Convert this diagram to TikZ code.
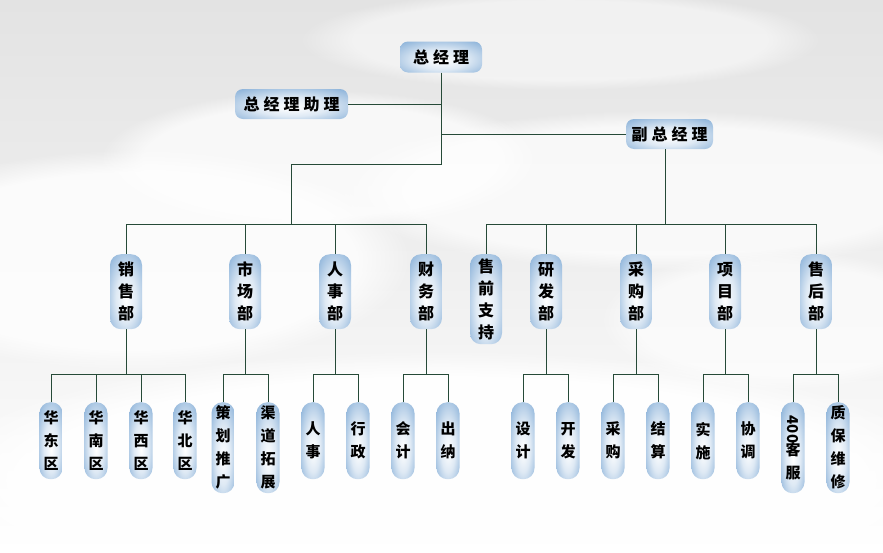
\documentclass[tikz,border=0pt]{standalone}
\usepackage{fontspec}
\newfontfamily\cjk{Noto Sans CJK SC}
\usetikzlibrary{positioning,fadings}
\definecolor{boxblue}{RGB}{124,168,212}
\definecolor{linegreen}{RGB}{38,74,56}
\pgfdeclareradialshading{boxshade}{\pgfpoint{0bp}{-6bp}}{color(0bp)=(white); color(16bp)=(white!75!boxblue); color(40bp)=(boxblue); color(60bp)=(boxblue)}

\begin{document}
\begin{tikzpicture}[x=1pt,y=-1pt,
    box/.style={shading=boxshade, rounded corners=8pt, inner sep=0pt, align=center,
                font=\cjk\bfseries\fontsize{16}{22}\selectfont},
    headbox/.style={box, minimum height=31pt},
    deptbox/.style={box, anchor=north, minimum width=32pt, rounded corners=11pt},
    subbox/.style={box, anchor=north, minimum width=23pt, rounded corners=11pt,
                   font=\cjk\bfseries\fontsize{15}{23}\selectfont},
    cloud/.style={fill=white, path fading=circle with fuzzy edge 20 percent},
    link/.style={draw=linegreen, line width=0.9pt}]
  % background
  \useasboundingbox (0,0) rectangle (883,552);
  \shade[top color=black!11, bottom color=white, middle color=black!6] (0,0) rectangle (883,552);
  \fill[cloud, opacity=0.8] (130,260) ellipse (280 and 110);
  \fill[cloud, opacity=0.7] (660,190) ellipse (320 and 80);
  \fill[cloud, opacity=0.7] (320,160) ellipse (220 and 70);
  \fill[cloud, opacity=0.9] (441,480) ellipse (520 and 130);
  \fill[cloud, opacity=0.6] (780,320) ellipse (180 and 70);
  \fill[cloud, opacity=0.5] (560,40) ellipse (260 and 50);

  % top level
  \node[headbox, minimum width=82pt] (gm) at (441,57) {总\hspace{4pt}经\hspace{4pt}理};
  \node[headbox, minimum width=113pt, minimum height=30pt] (asst) at (291.5,104) {总\hspace{4pt}经\hspace{4pt}理\hspace{4pt}助\hspace{4pt}理};
  \node[headbox, minimum width=87pt, minimum height=30pt] (vgm) at (669.5,134) {副\hspace{4pt}总\hspace{4pt}经\hspace{4pt}理};

  % departments
  \node[deptbox, minimum height=75pt] (sales) at (126,254) {销\\售\\部};
  \node[deptbox, minimum height=75pt] (market) at (245,254) {市\\场\\部};
  \node[deptbox, minimum height=75pt] (hr) at (335,254) {人\\事\\部};
  \node[deptbox, minimum height=75pt] (fin) at (426,254) {财\\务\\部};
  \node[deptbox, minimum height=90pt] (presale) at (486,254) {售\\前\\支\\持};
  \node[deptbox, minimum height=75pt] (rd) at (546,254) {研\\发\\部};
  \node[deptbox, minimum height=75pt] (buy) at (636,254) {采\\购\\部};
  \node[deptbox, minimum height=75pt] (proj) at (725,254) {项\\目\\部};
  \node[deptbox, minimum height=75pt] (after) at (816,254) {售\\后\\部};

  % sections
  \node[subbox, minimum height=77pt] (east) at (51,402) {华\\东\\区};
  \node[subbox, minimum height=77pt] (south) at (96,402) {华\\南\\区};
  \node[subbox, minimum height=77pt] (west) at (141,402) {华\\西\\区};
  \node[subbox, minimum height=77pt] (north) at (185,402) {华\\北\\区};
  \node[subbox, minimum height=91pt] (plan) at (223,402) {策\\划\\推\\广};
  \node[subbox, minimum height=91pt] (channel) at (268,402) {渠\\道\\拓\\展};
  \node[subbox, minimum height=77pt] (staff) at (313,402) {人\\事};
  \node[subbox, minimum height=77pt] (admin) at (358,402) {行\\政};
  \node[subbox, minimum height=77pt] (account) at (403,402) {会\\计};
  \node[subbox, minimum height=77pt] (cashier) at (448,402) {出\\纳};
  \node[subbox, minimum height=77pt] (design) at (523,402) {设\\计};
  \node[subbox, minimum height=77pt] (develop) at (568,402) {开\\发};
  \node[subbox, minimum height=77pt] (purchase) at (613,402) {采\\购};
  \node[subbox, minimum height=77pt] (settle) at (658,402) {结\\算};
  \node[subbox, minimum height=77pt] (build) at (703,402) {实\\施};
  \node[subbox, minimum height=77pt] (coord) at (748,402) {协\\调};
  \node[subbox, minimum height=91pt] (service) at (793,402) {\rotatebox{-90}{400}\\[-2pt]客\\服};
  \node[subbox, minimum height=91pt] (repair) at (838,402) {质\\保\\维\\修};

  % junctions
  \coordinate (turn) at (441,164);
  \coordinate (lbus) at (291,224);
  \coordinate (rbus) at (665,224);

  % top links
  \draw[link] (gm.south) -- (turn) -| (lbus);
  \draw[link] (asst.east) -- (gm.south |- asst.east);
  \draw[link] (vgm.west) -- (gm.south |- vgm.west);
  \draw[link] (vgm.south -| rbus) -- (rbus);
  \draw[link] (sales.north |- lbus) -- (fin.north |- lbus);
  \draw[link] (presale.north |- rbus) -- (after.north |- rbus);
  \foreach \d in {sales,market,hr,fin}
    \draw[link] (\d.north |- lbus) -- (\d.north);
  \foreach \d in {presale,rd,buy,proj,after}
    \draw[link] (\d.north |- rbus) -- (\d.north);

  % department links
  \foreach \d/\a/\b in {sales/east/north, market/plan/channel, hr/staff/admin,
                        fin/account/cashier, rd/design/develop, buy/purchase/settle,
                        proj/build/coord, after/service/repair} {
    \draw[link] (\d.south) -- ++(0,45);
    \draw[link] (\a.north) -- ++(0,-28) -| (\b.north);
  }
  \foreach \s in {south,west}
    \draw[link] (\s.north) -- ++(0,-28);
\end{tikzpicture}
\end{document}
